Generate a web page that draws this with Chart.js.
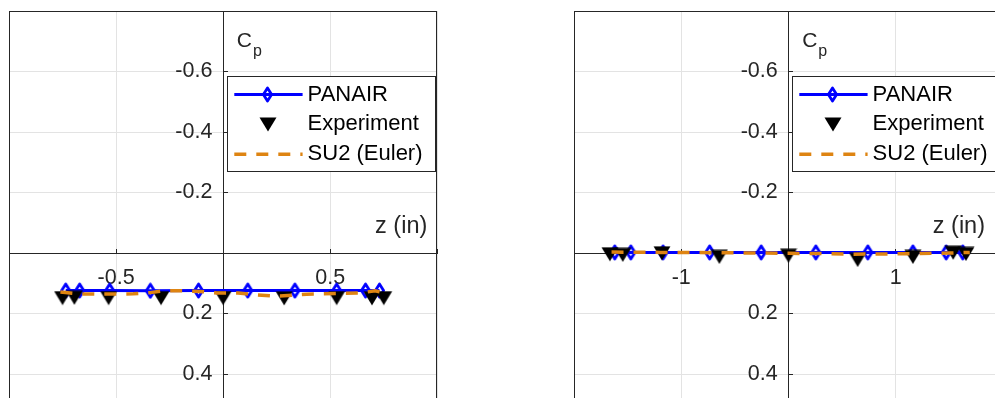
<!DOCTYPE html>
<html>
<head>
<meta charset="utf-8">
<script src="https://cdn.jsdelivr.net/npm/chart.js@4.4.1/dist/chart.umd.min.js"></script>
<style>
  html, body { margin: 0; padding: 0; background: #fff; }
  #wrap { position: relative; width: 995px; height: 398px; overflow: hidden; background: #fff; }
  #wrap canvas { position: absolute; top: -14px; }
  #leftChart { left: -16px; }
  #rightChart { left: 549px; }
</style>
</head>
<body>
<div id="wrap">
  <canvas id="leftChart" width="476" height="534"></canvas>
  <canvas id="rightChart" width="471" height="534"></canvas>
</div>
<script>
// left panel
const leftPanairZ = [-0.735, -0.67, -0.53, -0.34, -0.115, 0.115, 0.335, 0.53, 0.665, 0.73];
const leftPanairCp = [0.124, 0.124, 0.124, 0.125, 0.124, 0.124, 0.124, 0.124, 0.124, 0.124];
const leftExpZ = [-0.75, -0.695, -0.535, -0.29, 0, 0.285, 0.53, 0.695, 0.75];
const leftExpCp = [0.149, 0.148, 0.149, 0.149, 0.149, 0.150, 0.149, 0.150, 0.149];
const leftSu2Z = [-0.76, -0.67, -0.58, -0.42, -0.34, -0.28, -0.19, -0.11, -0.03, 0.07, 0.15, 0.25, 0.39, 0.53, 0.64, 0.71, 0.75];
const leftSu2Cp = [0.129, 0.135, 0.136, 0.135, 0.131, 0.125, 0.125, 0.127, 0.132, 0.132, 0.138, 0.143, 0.136, 0.134, 0.132, 0.125, 0.132];
const leftXTicks = [-1, -0.5, 0, 0.5, 1];
const leftXLabels = ['', '-0.5', '', '0.5', ''];

// right panel
const rightPanairZ = [-1.62, -1.47, -1.17, -0.735, -0.255, 0.255, 0.74, 1.16, 1.47, 1.625];
const rightPanairCp = [-0.002, -0.002, -0.002, -0.002, -0.002, -0.002, -0.002, -0.002, -0.002, -0.002];
const rightExpZ = [-1.665, -1.545, -1.18, -0.645, 0, 0.645, 1.16, 1.535, 1.655];
const rightExpCp = [0.004, 0.006, 0.001, 0.013, 0.009, 0.023, 0.013, -0.001, 0.003];
const rightSu2Z = [-1.65, -1.2, -0.65, -0.3, 0, 0.3, 0.6, 0.9, 1.2, 1.5, 1.69];
const rightSu2Cp = [-0.003, -0.002, -0.001, 0, 0.001, 0.002, 0.004, 0.003, 0.002, 0, -0.002];
const rightXTicks = [-2, -1, 0, 1, 2];
const rightXLabels = ['', '-1', '', '1', ''];

// shared Cp axis (reversed)
const cpTicks = [-0.8, -0.6, -0.4, -0.2, 0, 0.2, 0.4, 0.6, 0.8];
const cpLabels = ['', '-0.6', '-0.4', '-0.2', '', '0.2', '0.4', '0.6', ''];

const FONT = '"Liberation Sans", Arial, Helvetica, sans-serif';
const AXIS_COLOR = '#262626';

const zip = (xs, ys) => xs.map((x, i) => ({ x, y: ys[i] }));

// marker images, centred like the matlab ones
const diamondImg = (() => {
    const c = document.createElement('canvas');
    c.width = 13; c.height = 17;
    const g = c.getContext('2d');
    g.strokeStyle = '#0000ff';
    g.lineWidth = 2.8;
    g.lineJoin = 'round';
    g.beginPath();
    g.moveTo(6.5, 2); g.lineTo(10.6, 8.5); g.lineTo(6.5, 15); g.lineTo(2.4, 8.5);
    g.closePath();
    g.stroke();
    return c;
})();

const triangleImg = (() => {
    const c = document.createElement('canvas');
    c.width = 18; c.height = 15;
    const g = c.getContext('2d');
    g.fillStyle = '#000';
    g.beginPath();
    g.moveTo(0.5, 0.5); g.lineTo(17.5, 0.5); g.lineTo(9, 14.5);
    g.closePath();
    g.fill();
    return c;
})();

const framePlugin = {
    id: 'framePlugin',
    afterDraw(chart, args, opts) {
        const { ctx, chartArea: a, scales: { x, y } } = chart;
        const x0 = x.getPixelForValue(0);
        const y0 = y.getPixelForValue(0);
        ctx.save();

        // box
        ctx.strokeStyle = AXIS_COLOR;
        ctx.lineWidth = 1;
        ctx.strokeRect(Math.round(a.left) + 0.5, Math.round(a.top) + 0.5,
            Math.round(a.right - a.left) - 1, Math.round(a.bottom - a.top) - 1);

        // axis labels
        ctx.fillStyle = AXIS_COLOR;
        ctx.textBaseline = 'alphabetic';
        ctx.textAlign = 'right';
        ctx.font = '23.5px ' + FONT;
        ctx.fillText('z (in)', a.right - opts.xLabelInset, y0 - 20.5);

        ctx.textAlign = 'left';
        ctx.font = '21px ' + FONT;
        ctx.fillText('C', x0 + 13.7, a.top + 35.5);
        const cw = ctx.measureText('C').width;
        ctx.font = '16px ' + FONT;
        ctx.fillText('p', x0 + 13.7 + cw + 1, a.top + 45);

        // legend
        const left = Math.round(x0 + 3.7);
        const top = Math.round(a.top + 65);
        ctx.fillStyle = '#fff';
        ctx.fillRect(left, top, 208, 95);
        ctx.strokeStyle = AXIS_COLOR;
        ctx.strokeRect(left + 0.5, top + 0.5, 208, 95);

        chart.data.datasets.forEach((ds, i) => {
            const cy = top + 18.6 + i * 29.8;
            if (ds.showLine) {
                ctx.save();
                ctx.strokeStyle = ds.borderColor;
                ctx.lineWidth = ds.borderWidth;
                ctx.setLineDash(ds.borderDash || []);
                ctx.beginPath();
                ctx.moveTo(left + 7.3, cy);
                ctx.lineTo(left + 75.6, cy);
                ctx.stroke();
                ctx.restore();
            }
            if (ds.pointRadius > 0) {
                const img = ds.pointStyle;
                ctx.drawImage(img, Math.round(left + 40.6 - img.width / 2), Math.round(cy - img.height / 2));
            }
            ctx.fillStyle = '#000';
            ctx.font = '22px ' + FONT;
            ctx.textAlign = 'left';
            ctx.textBaseline = 'middle';
            ctx.fillText(ds.label, left + 80.6, cy);
        });
        ctx.restore();
    }
};

function makePanel(canvasId, opts) {
    const ctx = document.getElementById(canvasId).getContext('2d');
    return new Chart(ctx, {
        type: 'scatter',
        data: {
            datasets: [{
                label: 'PANAIR',
                data: zip(opts.panairZ, opts.panairCp),
                showLine: true,
                borderColor: '#0000ff',
                backgroundColor: '#0000ff',
                borderWidth: 3,
                pointStyle: diamondImg,
                pointRadius: 6,
                order: 3
            }, {
                label: 'Experiment',
                data: zip(opts.expZ, opts.expCp),
                showLine: false,
                borderColor: '#000',
                backgroundColor: '#000',
                pointStyle: triangleImg,
                pointRadius: 8,
                order: 2
            }, {
                label: 'SU2 (Euler)',
                data: zip(opts.su2Z, opts.su2Cp),
                showLine: true,
                borderColor: '#de8412',
                backgroundColor: '#de8412',
                borderWidth: 3.5,
                borderDash: [12, 10],
                pointRadius: 0,
                order: 1
            }]
        },
        options: {
            responsive: false,
            animation: false,
            events: [],
            layout: { autoPadding: false, padding: opts.padding },
            plugins: {
                legend: { display: false },
                tooltip: { enabled: false },
                framePlugin: { xLabelInset: opts.xLabelInset }
            },
            scales: {
                x: {
                    type: 'linear',
                    min: opts.xTicks[0],
                    max: opts.xTicks[opts.xTicks.length - 1],
                    position: { y: 0 },
                    afterBuildTicks: axis => { axis.ticks = opts.xTicks.map(v => ({ value: v })); },
                    grid: { color: '#e3e3e3', tickColor: AXIS_COLOR, tickLength: -5 },
                    border: { color: AXIS_COLOR, width: 1 },
                    ticks: {
                        callback: (v, i) => opts.xLabels[i],
                        color: AXIS_COLOR,
                        font: { family: FONT, size: 21.5 },
                        padding: 17,
                        maxRotation: 0,
                        autoSkip: false
                    }
                },
                y: {
                    type: 'linear',
                    min: -0.8,
                    max: 0.8,
                    reverse: true,
                    position: { x: 0 },
                    afterBuildTicks: axis => { axis.ticks = cpTicks.map(v => ({ value: v })); },
                    grid: { color: '#e3e3e3', tickColor: AXIS_COLOR, tickLength: -5 },
                    border: { color: AXIS_COLOR, width: 1 },
                    ticks: {
                        // en space keeps the label clear of the axis line
                        callback: (v, i) => cpLabels[i] ? cpLabels[i] + '\u2002' : '',
                        color: AXIS_COLOR,
                        font: { family: FONT, size: 21.5 },
                        padding: 10,
                        autoSkip: false
                    }
                }
            }
        },
        plugins: [framePlugin]
    });
}

makePanel('leftChart', {
    panairZ: leftPanairZ, panairCp: leftPanairCp,
    expZ: leftExpZ, expCp: leftExpCp,
    su2Z: leftSu2Z, su2Cp: leftSu2Cp,
    xTicks: leftXTicks, xLabels: leftXLabels,
    padding: { left: 25, top: 25, right: 22.7, bottom: 25 },
    xLabelInset: 10
});

makePanel('rightChart', {
    panairZ: rightPanairZ, panairCp: rightPanairCp,
    expZ: rightExpZ, expCp: rightExpCp,
    su2Z: rightSu2Z, su2Cp: rightSu2Cp,
    xTicks: rightXTicks, xLabels: rightXLabels,
    padding: { left: 25, top: 25, right: 17, bottom: 25 },
    xLabelInset: 18
});
</script>
</body>
</html>
